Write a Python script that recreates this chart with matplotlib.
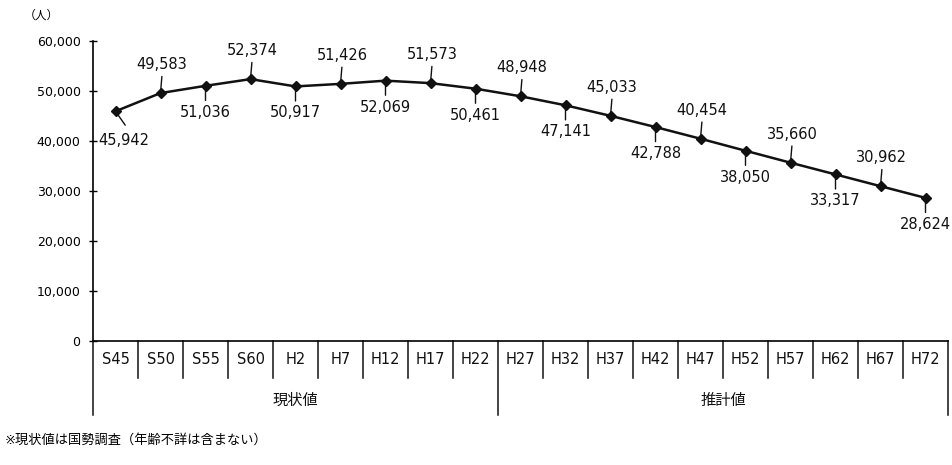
import matplotlib.pyplot as plt
import matplotlib.transforms as mtransforms

plt.rcParams['font.family'] = ['DejaVu Sans', 'Noto Sans CJK JP']

# Population (people) by census year
years = ['S45', 'S50', 'S55', 'S60', 'H2', 'H7', 'H12', 'H17', 'H22',
         'H27', 'H32', 'H37', 'H42', 'H47', 'H52', 'H57', 'H62', 'H67', 'H72']
population = [45942, 49583, 51036, 52374, 50917, 51426, 52069, 51573, 50461,
              48948, 47141, 45033, 42788, 40454, 38050, 35660, 33317, 30962, 28624]
groups = ['現状値', '推計値']
group_sizes = [9, 10]

fig = plt.figure(figsize=(9.52, 4.65), dpi=100)
ax = fig.add_axes([93 / 952, 124 / 465, 855 / 952, 300 / 465])

x = list(range(len(years)))
ax.plot(x, population, color='#111111', lw=1.8, marker='D', ms=5.5,
        mfc='#111111', mec='#111111', zorder=3)

# Data labels, alternating above / below with leader lines
for i, v in enumerate(population):
    if i == 0:
        off, line_end = (6, -21), (7, -10)
    elif i % 2 == 1:
        off, line_end = (1, 20.5), (1, 12)
    else:
        off, line_end = (0, -19), (0, -10.5)
    ax.annotate('', xy=(i, v), xytext=line_end, textcoords='offset points',
                arrowprops=dict(arrowstyle='-', color='#111111', lw=1.0,
                                shrinkA=0, shrinkB=0))
    ax.annotate(f'{v:,}', xy=(i, v), xytext=off, textcoords='offset points',
                ha='center', va='center', fontsize=10.5, color='#111111')

ax.set_xlim(-0.5, len(years) - 0.5)
ax.set_ylim(0, 60000)
ax.set_yticks(range(0, 60001, 10000))
ax.set_yticklabels([f'{t:,}' for t in range(0, 60001, 10000)], fontsize=9)
ax.tick_params(axis='y', direction='inout', length=6, width=1, pad=6)
ax.set_xticks([])

for s in ['top', 'right']:
    ax.spines[s].set_visible(False)
ax.spines['left'].set_linewidth(1.2)
ax.spines['bottom'].set_linewidth(1.2)

# Category table under the axis
trans = mtransforms.blended_transform_factory(ax.transData, ax.transAxes)
row1 = -0.123
row2 = -0.247
for i, lab in enumerate(years):
    ax.text(i, -0.062, lab, transform=trans, ha='center', va='center',
            fontsize=10.5, color='#111111')
boundaries = [i - 0.5 for i in range(len(years) + 1)]
group_edges = [-0.5]
for n in group_sizes:
    group_edges.append(group_edges[-1] + n)
for b in boundaries:
    bottom = row2 if b in group_edges else row1
    ax.plot([b, b], [0, bottom], transform=trans, color='#111111', lw=1.1,
            clip_on=False)
for k, g in enumerate(groups):
    mid = (group_edges[k] + group_edges[k + 1]) / 2
    ax.text(mid, -0.197, g, transform=trans, ha='center', va='center',
            fontsize=11, color='#111111')

fig.text(41 / 952, 1 - 15 / 465, '（人）', ha='center', va='center', fontsize=8.5)
fig.text(5 / 952, 1 - 440 / 465, '※現状値は国勢調査（年齢不詳は含まない）',
         ha='left', va='center', fontsize=9.5)

fig.savefig('out.png', dpi=100, facecolor='white')
